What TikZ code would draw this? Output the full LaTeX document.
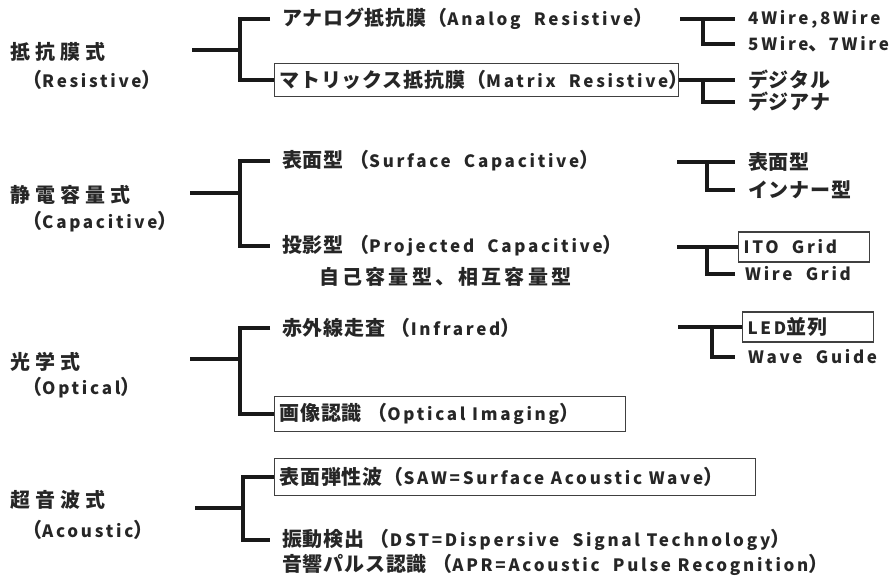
\documentclass[tikz,border=0pt]{standalone}
\usepackage{fontspec}
\setmainfont{Noto Sans CJK JP}
\newfontfamily\tfam{Noto Sans CJK JP}[LetterSpace=26]
\newfontfamily\jfam{Noto Sans CJK JP}[LetterSpace=4]
\newfontfamily\kfam{Noto Sans CJK JP}[LetterSpace=16]
\newfontfamily\efam{Noto Sans CJK JP}[LetterSpace=16]
\newcommand\T[1]{{\tfam\bfseries\fontsize{20pt}{24pt}\selectfont #1}}
\newcommand\J[1]{{\jfam\bfseries\fontsize{20pt}{24pt}\selectfont #1}}
\newcommand\K[1]{{\kfam\bfseries\fontsize{20pt}{24pt}\selectfont #1}}
\newcommand\E[1]{{\efam\bfseries\fontsize{17pt}{20pt}\selectfont #1}}
\begin{document}
\begin{tikzpicture}[x=1pt,y=-1pt,
  cat/.style={anchor=west,inner sep=0pt,text=black!85},
  txt/.style={anchor=west,inner xsep=12pt,inner ysep=2pt,text=black!85},
  rtxt/.style={anchor=west,inner xsep=13pt,inner ysep=2pt,text=black!85},
  boxed/.style={anchor=west,draw=black!75,line width=1.2pt,inner xsep=5pt,inner ysep=0pt,text=black!85},
  br/.style={line width=3.6pt,line join=miter,black!90}]
\useasboundingbox (0,0) rectangle (892,579);

% ---------- Group 1: Resistive ----------
\node[cat] (c1) at (10,52) {\T{抵抗膜式}};
\node[cat] (c1e) at (22,80) {\J{（}\E{Resistive}\J{）}};
\node[txt] (a1) at (270,19) {\J{アナログ抵抗膜（}\E{Analog~~Resistive}\J{）}};
\node[boxed,minimum height=33pt] (b1) at (274,80) {\makebox[394pt][l]{\J{マトリックス抵抗膜（}\E{Matrix~~Resistive}\J{）}}};
\coordinate (s1) at (192,50);
\coordinate (j1) at (240,50);
\draw[br] (s1) -- (j1);
\draw[br] (a1.west) -| (j1) |- (b1.west);

\node[rtxt] (w1) at (735,19) {\E{4Wire,8Wire}};
\node[rtxt] (w2) at (735,44) {\E{5Wire}\J{、}\E{7Wire}};
\coordinate (s2) at (680,19);
\coordinate (k2) at (703,19);
\draw[br] (s2) -- (w1.west);
\draw[br] (k2) |- (w2.west);

\node[rtxt] (d1) at (735,80) {\J{デジタル}};
\node[rtxt] (d2) at (735,102) {\J{デジアナ}};
\coordinate (k3) at (703,80);
\draw[br] (b1.east) -- (d1.west);
\draw[br] (k3) |- (d2.west);

% ---------- Group 2: Capacitive ----------
\node[cat] (c2) at (10,195) {\T{静電容量式}};
\node[cat] (c2e) at (22,222) {\J{（}\E{Capacitive}\J{）}};
\node[txt] (a2) at (270,161) {\J{表面型 （}\E{Surface~~Capacitive}\J{）}};
\node[txt] (b2) at (270,246) {\J{投影型 （}\E{Projected~~Capacitive}\J{）}};
\node[cat] (b2x) at (319,277) {\K{自己容量型、相互容量型}};
\coordinate (s3) at (190,193);
\coordinate (j2) at (240,193);
\draw[br] (s3) -- (j2);
\draw[br] (a2.west) -| (j2) |- (b2.west);

\node[rtxt] (t1) at (735,162) {\J{表面型}};
\node[rtxt] (t2) at (735,190) {\J{インナー型}};
\coordinate (s4) at (677,162);
\coordinate (k4) at (707,162);
\draw[br] (s4) -- (t1.west);
\draw[br] (k4) |- (t2.west);

\node[boxed,minimum height=30pt] (ito) at (738,247) {\makebox[121pt][l]{\E{ITO~~Grid}}};
\node[rtxt,inner xsep=10pt] (wg) at (735,274) {\E{Wire~~Grid}};
\coordinate (s5) at (677,247);
\coordinate (k5) at (707,247);
\draw[br] (s5) -- (ito.west);
\draw[br] (k5) |- (wg.west);

% ---------- Group 3: Optical ----------
\node[cat] (c3) at (10,362) {\T{光学式}};
\node[cat] (c3e) at (22,388) {\J{（}\E{Optical}\J{）}};
\node[txt] (a3) at (270,328) {\J{赤外線走査 （}\E{Infrared}\J{）}};
\node[boxed,minimum height=35pt] (b3) at (274,414) {\makebox[341pt][l]{\J{画像認識 （}\E{Optical Imaging}\J{）}}};
\coordinate (s6) at (190,359);
\coordinate (j3) at (240,359);
\draw[br] (s6) -- (j3);
\draw[br] (a3.west) -| (j3) |- (b3.west);

\node[boxed,minimum height=30pt] (led) at (742,327) {\makebox[121pt][l]{\E{LED}\J{並列}}};
\node[rtxt] (wv) at (735,357) {\E{Wave~~Guide}};
\coordinate (s7) at (678,327);
\coordinate (k7) at (712,327);
\draw[br] (s7) -- (led.west);
\draw[br] (k7) |- (wv.west);

% ---------- Group 4: Acoustic ----------
\node[cat] (c4) at (10,500) {\T{超音波式}};
\node[cat] (c4e) at (22,530) {\J{（}\E{Acoustic}\J{）}};
\node[boxed,minimum height=37pt] (a4) at (274,477) {\makebox[471pt][l]{\J{表面弾性波（}\E{SAW=Surface Acoustic Wave}\J{）}}};
\node[txt] (b4) at (270,540) {\J{振動検出 （}\E{DST=Dispersive~~Signal Technology}\J{）}};
\node[txt] (b4x) at (270,565) {\J{音響パルス認識 （}\E{APR=Acoustic~~Pulse Recognition}\J{）}};
\coordinate (s8) at (195,508);
\coordinate (j4) at (243,508);
\draw[br] (s8) -- (j4);
\draw[br] (a4.west) -| (j4) |- (b4.west);
\end{tikzpicture}
\end{document}
